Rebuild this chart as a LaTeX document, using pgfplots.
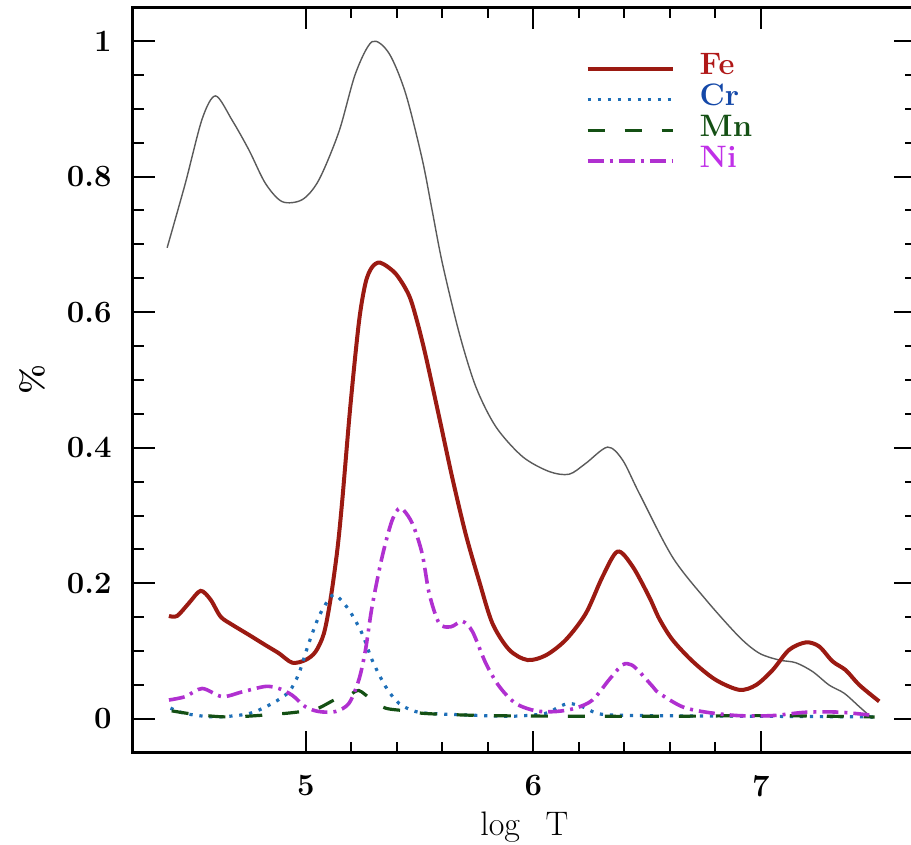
\documentclass[border=0pt]{standalone}
\usepackage{pgfplots}
\pgfplotsset{compat=1.18}
\definecolor{feline}{HTML}{9B1A12}
\definecolor{fetext}{HTML}{B01818}
\definecolor{crline}{HTML}{1E6FB8}
\definecolor{crtext}{HTML}{1448A8}
\definecolor{mnline}{HTML}{145014}
\definecolor{mntext}{HTML}{145014}
\definecolor{niline}{HTML}{B030D0}
\definecolor{nitext}{HTML}{C030E8}
\definecolor{totline}{HTML}{5A5A5A}
\begin{document}
\begin{tikzpicture}
\begin{axis}[
  scale only axis, width=391.3pt, height=372.9pt,
  xmin=4.24, xmax=7.68, ymin=-0.05, ymax=1.05,
  xtick={5,6,7}, ytick={0,0.2,0.4,0.6,0.8,1},
  yticklabels={0,0.2,0.4,0.6,0.8,1},
  minor x tick num=4, minor y tick num=3,
  tick align=inside, xtick pos=both, ytick pos=both,
  major tick length=11pt, minor tick length=5.5pt,
  every tick/.style={black, line width=1pt},
  axis line style={line width=1.5pt},
  /pgf/number format/assume math mode=true,
  ticklabel style={font=\fontsize{15.5}{18}\selectfont\bfseries},
  xticklabel style={inner sep=0pt, yshift=-11pt},
  yticklabel style={inner sep=0pt, xshift=-10.5pt},
  xlabel={log\hspace{0.75em}T},
  xlabel style={font=\fontsize{17}{20}\selectfont, at={(axis description cs:0.5,0)}, anchor=center, yshift=-37pt},
  ylabel={\%},
  ylabel style={font=\fontsize{16}{19}\selectfont\bfseries, at={(axis description cs:-0.129,0.5)}, anchor=center},
  legend style={draw=none, fill=none, at={(axis description cs:0.578,0.9385)}, anchor=north west,
    font=\fontsize{15.5}{18}\selectfont\bfseries, inner sep=0pt, row sep=0pt,
    nodes={inner sep=0pt, text height=10.8pt, text depth=4.6pt},
    /tikz/column 1/.style={column sep=12.5pt}},
  legend cell align=left,
  legend image code/.code={\draw[#1] (0pt,0pt) -- (42.5pt,0pt);},
]
\addplot[totline, line width=0.7pt, smooth, tension=0.5, forget plot] coordinates {
(4.39,0.695) (4.47,0.79) (4.544,0.885) (4.603,0.919) (4.676,0.883) (4.75,0.839) (4.822,0.790) (4.896,0.763) (4.984,0.766) (5.057,0.795) (5.145,0.866) (5.218,0.952) (5.291,0.999) (5.365,0.982) (5.438,0.923) (5.511,0.826) (5.555,0.75) (5.60,0.672) (5.674,0.569) (5.747,0.490) (5.835,0.431) (5.952,0.387) (6.069,0.365) (6.157,0.361) (6.23,0.377) (6.326,0.401) (6.392,0.382) (6.465,0.333) (6.611,0.239) (6.758,0.176) (6.905,0.121) (6.993,0.097) (7.08,0.087) (7.153,0.083) (7.227,0.070) (7.30,0.050) (7.366,0.038) (7.433,0.018) (7.49,0.001)
};
\addplot[feline, line width=2pt, smooth, tension=0.5] coordinates {
(4.398,0.152) (4.434,0.152) (4.486,0.171) (4.537,0.189) (4.581,0.176) (4.625,0.151) (4.676,0.139) (4.75,0.124) (4.822,0.109) (4.881,0.097) (4.94,0.083) (4.998,0.087) (5.042,0.099) (5.079,0.126) (5.108,0.176) (5.138,0.249) (5.16,0.323) (5.195,0.46) (5.233,0.585) (5.262,0.643) (5.29,0.666) (5.327,0.673) (5.394,0.657) (5.453,0.625) (5.49,0.585) (5.527,0.535) (5.586,0.445) (5.644,0.355) (5.703,0.272) (5.762,0.203) (5.82,0.141) (5.894,0.102) (5.974,0.087) (6.055,0.094) (6.143,0.117) (6.231,0.156) (6.304,0.21) (6.37,0.247) (6.436,0.225) (6.509,0.180) (6.553,0.148) (6.611,0.117) (6.70,0.085) (6.80,0.058) (6.905,0.043) (6.978,0.050) (7.051,0.072) (7.124,0.102) (7.198,0.113) (7.256,0.107) (7.315,0.085) (7.373,0.072) (7.433,0.050) (7.52,0.026)
};
\addlegendentry{\textcolor{fetext}{Fe}}
\addplot[crline, line width=1.6pt, dash pattern=on 1.6pt off 3.4pt, smooth, tension=0.5] coordinates {
(4.405,0.016) (4.47,0.008) (4.603,0.003) (4.75,0.008) (4.852,0.023) (4.925,0.040) (4.969,0.067) (5.013,0.112) (5.057,0.151) (5.10,0.176) (5.13,0.183) (5.189,0.161) (5.247,0.126) (5.291,0.087) (5.35,0.048) (5.409,0.023) (5.482,0.011) (5.555,0.008) (5.7,0.006) (5.9,0.004) (6.05,0.008) (6.113,0.018) (6.157,0.023) (6.216,0.018) (6.3,0.007) (6.5,0.005) (7.0,0.004) (7.5,0.003)
};
\addlegendentry{\textcolor{crtext}{Cr}}
\addplot[mnline, line width=1.6pt, dash pattern=on 8.5pt off 10pt, smooth, tension=0.5] coordinates {
(4.41,0.012) (4.53,0.006) (4.676,0.003) (4.9,0.008) (5.0,0.012) (5.056,0.016) (5.13,0.029) (5.19,0.035) (5.233,0.042) (5.29,0.028) (5.35,0.016) (5.44,0.012) (5.53,0.008) (5.8,0.005) (6.2,0.004) (6.6,0.004) (7.0,0.005) (7.3,0.004) (7.5,0.003)
};
\addlegendentry{\textcolor{mntext}{Mn}}
\addplot[niline, line width=1.8pt, dash pattern=on 8pt off 3pt on 1.5pt off 3pt, smooth, tension=0.5] coordinates {
(4.398,0.028) (4.47,0.033) (4.544,0.045) (4.632,0.033) (4.72,0.040) (4.822,0.048) (4.881,0.045) (4.94,0.035) (4.998,0.018) (5.057,0.011) (5.13,0.011) (5.189,0.023) (5.233,0.058) (5.262,0.102) (5.291,0.166) (5.335,0.239) (5.379,0.293) (5.416,0.311) (5.467,0.289) (5.511,0.244) (5.542,0.185) (5.586,0.141) (5.637,0.136) (5.688,0.144) (5.732,0.129) (5.791,0.082) (5.85,0.048) (5.922,0.023) (6.011,0.012) (6.099,0.011) (6.185,0.016) (6.26,0.028) (6.333,0.058) (6.392,0.080) (6.43,0.080) (6.465,0.070) (6.524,0.048) (6.553,0.038) (6.655,0.018) (6.76,0.010) (6.9,0.005) (7.05,0.005) (7.2,0.010) (7.35,0.010) (7.5,0.005)
};
\addlegendentry{\textcolor{nitext}{Ni}}
\end{axis}
\pgfresetboundingbox
\path[use as bounding box] ([shift={(-66.5pt,-46pt)}]current axis.south west) rectangle ([shift={(-2.3pt,3.55pt)}]current axis.north east);
\end{tikzpicture}
\end{document}
